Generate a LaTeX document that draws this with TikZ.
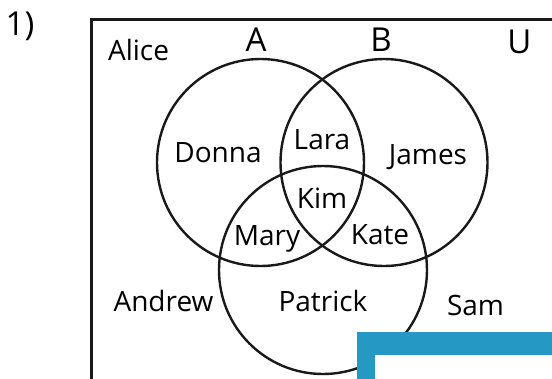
\documentclass[tikz,border=0pt]{standalone}
\usepackage{fontspec}
\setmainfont{Open Sans}
\definecolor{tabblue}{RGB}{37,152,196}
\begin{document}
\begin{tikzpicture}[x=1pt,y=-1pt,
  person/.style={anchor=base,inner sep=0pt,font=\fontsize{28}{30}\selectfont},
  setlabel/.style={anchor=base,inner sep=0pt,font=\fontsize{33}{35}\selectfont},
  ring/.style={draw=black!90,line width=2.4pt}]
\useasboundingbox (0,0) rectangle (552,378);
\clip (0,0) rectangle (552,378);
\fill[white] (0,0) rectangle (552,378);
% frame
\coordinate (fbl) at (91,400);
\coordinate (ftl) at (91,19);
\coordinate (ftr) at (600,19);
\draw[black!90,line width=3pt] (fbl) -- (ftl) -- (ftr);
% circles
\coordinate (ca) at (260.5,162.5);
\coordinate (cb) at (384,162.5);
\coordinate (cc) at (323,270);
\draw[ring] (ca) circle[radius=103.5pt];
\draw[ring] (cb) circle[radius=103.5pt];
\draw[ring] (cc) circle[radius=104pt];
% labels
\node[person,font=\fontsize{33}{34}\selectfont] (num) at (20,35) {1)};
\node[setlabel] (la) at (256,51) {A};
\node[setlabel] (lb) at (381,51) {B};
\node[setlabel] (lu) at (519.5,53) {U};
\node[person] (alice) at (138.5,60) {Alice};
\node[person] (donna) at (218,162) {Donna};
\node[person] (lara) at (322,149) {Lara};
\node[person] (james) at (428,164) {James};
\node[person] (kim) at (322,208) {Kim};
\node[person] (mary) at (267,245) {Mary};
\node[person] (kate) at (380,244) {Kate};
\node[person] (andrew) at (163.5,311) {Andrew};
\node[person] (patrick) at (323,311) {Patrick};
\node[person] (sam) at (475.5,315) {Sam};
% blue tab
\fill[tabblue] (357,332) rectangle (560,390);
\fill[white] (375,355) rectangle (560,390);
\end{tikzpicture}
\end{document}
